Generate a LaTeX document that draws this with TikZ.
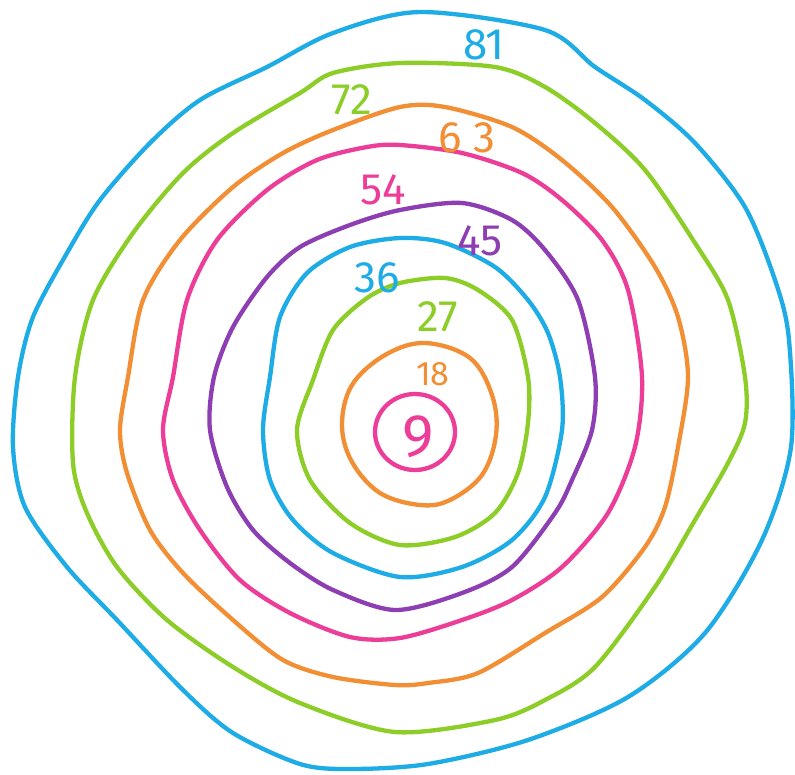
\documentclass[tikz,border=0pt]{standalone}
\usepackage{fontspec}
\setmainfont{Fira Sans}
\definecolor{cblue}{RGB}{30,172,230}
\definecolor{cgreen}{RGB}{140,205,40}
\definecolor{corange}{RGB}{242,142,52}
\definecolor{cpink}{RGB}{236,62,152}
\definecolor{cpurple}{RGB}{140,62,178}
\tikzset{ring/.style={line width=4.3pt,line join=round}, lab/.style={font=\fontsize{44}{44}\selectfont, inner sep=0pt}}
\begin{document}
\begin{tikzpicture}[x=1pt,y=-1pt]
\useasboundingbox (0,0) rectangle (795,774);
\fill[white] (0,0) rectangle (795,774);
% 81
\draw[ring,cblue] plot[smooth cycle,tension=0.5] coordinates {(420,12) (545,30) (595,67) (645,100) (695,143) (745,207) (776,283) (789,340) (791,447) (762,540) (705,633) (628,697) (528,740) (428,764) (350,769) (300,764) (233,733) (183,690) (117,620) (67,567) (25,507) (13,447) (18,377) (33,317) (67,253) (100,200) (150,143) (200,100) (267,67) (333,33)};
% 72
\draw[ring,cgreen] plot[smooth cycle,tension=0.5] coordinates {(400,63) (495,67) (545,87) (595,123) (645,170) (695,243) (728,300) (745,377) (745,423) (728,463) (695,520) (655,587) (595,667) (545,700) (495,720) (395,732) (300,703) (233,667) (167,620) (117,567) (87,513) (73,463) (75,377) (93,300) (133,233) (183,173) (233,133) (300,93) (333,73)};
% 63
\draw[ring,corange] plot[smooth cycle,tension=0.5] coordinates {(400,107) (445,107) (512,127) (562,160) (612,207) (655,267) (678,317) (688,377) (678,447) (665,507) (645,547) (602,597) (545,633) (478,673) (428,683) (395,685) (333,677) (283,660) (233,620) (183,573) (150,530) (127,473) (120,430) (128,377) (143,300) (180,240) (233,187) (283,153) (333,130)};
% 54
\draw[ring,cpink] plot[smooth cycle,tension=0.5] coordinates {(400,145) (462,153) (522,173) (562,200) (602,240) (628,290) (642,377) (635,447) (608,513) (562,567) (512,600) (462,620) (400,638) (350,637) (290,613) (240,580) (200,530) (173,480) (163,430) (173,377) (187,300) (217,240) (267,190) (317,160) (367,147)};
% 45
\draw[ring,cpurple] plot[smooth cycle,tension=0.5] coordinates {(400,210) (462,203) (512,220) (545,250) (578,300) (595,377) (592,430) (572,480) (555,513) (512,567) (462,593) (395,610) (333,590) (290,563) (253,530) (227,487) (210,430) (214,377) (233,327) (267,277) (300,247) (350,225)};
% 36
\draw[ring,cblue] plot[smooth cycle,tension=0.5] coordinates {(400,238) (445,243) (495,267) (528,300) (548,333) (560,377) (562,430) (545,497) (512,540) (462,567) (400,577) (333,553) (293,520) (270,480) (263,430) (270,377) (280,317) (307,273) (350,247)};
% 27
\draw[ring,cgreen] plot[smooth cycle,tension=0.5] coordinates {(400,283) (445,278) (478,290) (512,320) (528,377) (528,423) (518,473) (495,513) (455,537) (400,545) (350,523) (310,480) (297,430) (313,380) (333,330) (367,298)};
% 18
\draw[ring,corange] plot[smooth cycle,tension=0.6] coordinates {(425,343) (470,358) (492,395) (496,435) (482,475) (450,500) (420,505) (380,493) (352,462) (342,425) (352,385) (385,355)};
% 9
\draw[ring,cpink] plot[smooth cycle,domain=0:350,samples=36,variable=\t] ({415+40*cos(\t)},{432+38*sin(\t)});
\node[lab,text=cblue] (l81) at (484,45) {81};
\node[lab,text=cgreen] (l72) at (352,100) {72};
\node[lab,text=corange] (l63) at (467,138) {6\hspace{12pt}3};
\node[lab,text=cpink] (l54) at (383,190) {54};
\node[lab,text=cpurple] (l45) at (480,241) {45};
\node[lab,text=cblue] (l36) at (377,278) {36};
\node[lab,text=cgreen] (l27) at (438,317) {27};
\node[lab,text=corange,font=\fontsize{34}{34}\selectfont] (l18) at (433,374) {18};
\node[lab,text=cpink,font=\fontsize{60}{60}\selectfont] (l9) at (418,437) {9};
\end{tikzpicture}
\end{document}
